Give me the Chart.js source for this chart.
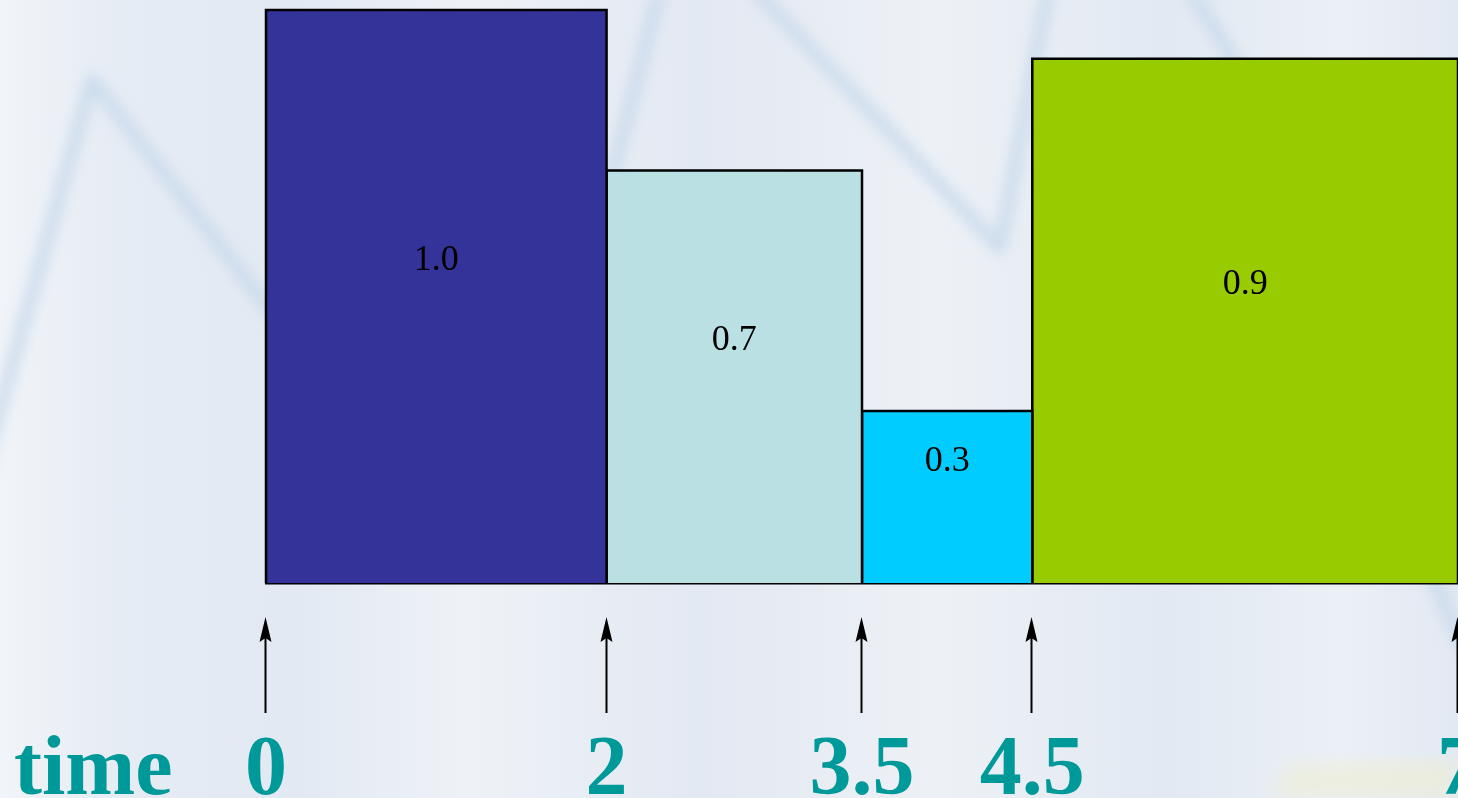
<!DOCTYPE html>
<html>
<head>
<meta charset="utf-8">
<script src="https://cdn.jsdelivr.net/npm/chart.js@4.4.1/dist/chart.umd.min.js"></script>
<style>
html,body{margin:0;padding:0;width:1458px;height:798px;overflow:hidden;}
body{background:linear-gradient(90deg,#f1f4f8 0%,#e6ecf4 8%,#e2e9f2 20%,#eef2f7 32%,#e3e9f2 48%,#edf1f6 64%,#e2e9f2 80%,#ebf0f6 92%,#e3e9f2 100%);}
#bg{position:absolute;left:0;top:0;}
#wrap{position:absolute;left:0;top:0;width:1458px;height:798px;}
</style>
</head>
<body>
<svg id="bg" width="1458" height="798">
  <defs>
    <filter id="blur" x="-20%" y="-20%" width="140%" height="140%"><feGaussianBlur stdDeviation="7"/></filter>
    <filter id="blur2"><feGaussianBlur stdDeviation="10"/></filter>
  </defs>
  <g filter="url(#blur)" stroke="#c6d8eb" stroke-width="13" fill="none" stroke-linejoin="round" opacity="0.85">
    <polyline points="-20,480 92,80 270,310 420,470"/>
    <polyline points="560,330 615,165 660,-10"/>
    <polyline points="755,-10 1000,248 1048,-10"/>
    <polyline points="1190,-10 1240,70 1300,200"/>
    <polyline points="1425,560 1470,660"/>
  </g>
  <polygon points="1270,798 1290,765 1458,760 1458,798" fill="#eeeed6" opacity="0.7" filter="url(#blur2)"/>
</svg>
<div id="wrap"><canvas id="c" width="1458" height="798"></canvas></div>
<script>
// ---- data ----
const edges = [0, 2, 3.5, 4.5, 7];
const heights = [1.0, 0.72, 0.30, 0.915];
const valueLabels = ['1.0', '0.7', '0.3', '0.9'];
const tickValues = [0, 2, 3.5, 4.5, 7];
const tickLabels = ['0', '2', '3.5', '4.5', '7'];
const axisTitle = 'time';
const barColors = ['#333399', '#bbe0e3', '#00ccff', '#99cc00'];

const TEAL = '#009999';
const SERIF = '"Liberation Serif", "Times New Roman", serif';

const datasets = heights.map((h, i) => ({
  type: 'line',
  label: valueLabels[i],
  data: [
    {x: edges[i], y: 0},
    {x: edges[i], y: h},
    {x: edges[i + 1], y: h},
    {x: edges[i + 1], y: 0}
  ],
  fill: 'origin',
  backgroundColor: barColors[i],
  borderColor: '#000000',
  borderWidth: 2.5,
  pointRadius: 0,
  tension: 0,
  clip: false
}));

const overlay = {
  id: 'overlay',
  afterDatasetsDraw(chart) {
    const ctx = chart.ctx;
    const xs = chart.scales.x, ys = chart.scales.y;
    ctx.save();
    ctx.fillStyle = '#000';
    ctx.font = '36px ' + SERIF;
    ctx.textAlign = 'center';
    ctx.textBaseline = 'middle';
    heights.forEach((h, i) => {
      const cx = (xs.getPixelForValue(edges[i]) + xs.getPixelForValue(edges[i + 1])) / 2;
      const top = ys.getPixelForValue(h), base = ys.getPixelForValue(0);
      ctx.fillText(valueLabels[i], cx, (top + base) / 2 - 36);
    });
    ctx.restore();
  },
  afterDraw(chart) {
    const ctx = chart.ctx;
    const xs = chart.scales.x;
    const base = chart.chartArea.bottom;
    ctx.save();
    ctx.strokeStyle = '#000';
    ctx.fillStyle = '#000';
    ctx.lineWidth = 2;
    tickValues.forEach(v => {
      const px = Math.round(xs.getPixelForValue(v)) - 0.5;
      const tip = base + 34, tail = base + 130;
      ctx.beginPath();
      ctx.moveTo(px, tail);
      ctx.lineTo(px, tip + 14);
      ctx.stroke();
      ctx.beginPath();
      ctx.moveTo(px, tip);
      ctx.lineTo(px - 6, tip + 25);
      ctx.lineTo(px, tip + 21);
      ctx.lineTo(px + 6, tip + 25);
      ctx.closePath();
      ctx.fill();
    });
    ctx.fillStyle = TEAL;
    ctx.font = 'bold 84px ' + SERIF;
    ctx.textAlign = 'left';
    ctx.textBaseline = 'alphabetic';
    ctx.fillText(axisTitle, 14, 794);
    ctx.restore();
  }
};

new Chart(document.getElementById('c'), {
  type: 'line',
  data: { datasets },
  options: {
    responsive: false,
    animation: false,
    events: [],
    layout: { padding: { left: 266, right: 0, top: 10, bottom: 0 } },
    plugins: { legend: { display: false }, tooltip: { enabled: false } },
    scales: {
      x: {
        type: 'linear',
        position: 'bottom',
        min: 0,
        max: 7,
        grid: { display: false },
        border: { display: true, color: '#000000', width: 2.5 },
        afterBuildTicks: s => { s.ticks = tickValues.map(v => ({ value: v })); },
        afterFit: s => { s.paddingLeft = 0; s.paddingRight = 0; s.height = 215; },
        ticks: {
          autoSkip: false,
          maxRotation: 0,
          minRotation: 0,
          padding: 131,
          color: TEAL,
          font: { family: SERIF, size: 84, weight: 'bold' },
          callback: (v, i) => tickLabels[i]
        }
      },
      y: {
        type: 'linear',
        display: false,
        min: 0,
        max: 1
      }
    }
  },
  plugins: [overlay]
});
</script>
</body>
</html>
